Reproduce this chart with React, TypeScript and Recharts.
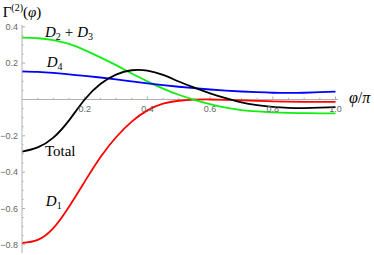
import { Line, LineChart, ReferenceDot, ReferenceLine, XAxis, YAxis } from "recharts";

// phi / pi sample points
const PHI = [0, 0.05, 0.1, 0.15, 0.2, 0.25, 0.3, 0.35, 0.4, 0.45, 0.5, 0.55, 0.6, 0.65, 0.7, 0.75, 0.8, 0.85, 0.9, 0.95, 1.0];

const D1 = [-0.79, -0.773, -0.708, -0.59, -0.452, -0.318, -0.208, -0.122, -0.06, -0.023, -0.007, -0.001, 0.0, -0.002, -0.005, -0.008, -0.01, -0.012, -0.013, -0.013, -0.013];
const D23 = [0.34, 0.337, 0.327, 0.306, 0.272, 0.232, 0.189, 0.143, 0.1, 0.06, 0.026, -0.002, -0.026, -0.045, -0.058, -0.066, -0.071, -0.074, -0.075, -0.076, -0.076];
const D4 = [0.155, 0.152, 0.146, 0.138, 0.13, 0.121, 0.111, 0.1, 0.089, 0.079, 0.07, 0.062, 0.055, 0.049, 0.044, 0.04, 0.037, 0.036, 0.037, 0.04, 0.043];
const TOTAL = [-0.287, -0.264, -0.21, -0.115, 0.0, 0.085, 0.137, 0.161, 0.159, 0.135, 0.099, 0.065, 0.034, 0.007, -0.016, -0.031, -0.041, -0.046, -0.047, -0.045, -0.042];

const X_MAJOR = [0.2, 0.4, 0.6, 0.8, 1.0];
const X_MINOR = [0.05, 0.1, 0.15, 0.25, 0.3, 0.35, 0.45, 0.5, 0.55, 0.65, 0.7, 0.75, 0.85, 0.9, 0.95];
const Y_MAJOR = [-0.8, -0.6, -0.4, -0.2, 0.2, 0.4];
const Y_MINOR = [-0.75, -0.7, -0.65, -0.55, -0.5, -0.45, -0.35, -0.3, -0.25, -0.15, -0.1, -0.05, 0.05, 0.1, 0.15, 0.25, 0.3, 0.35];

const rows = PHI.map((phi, i) => ({ phi, d1: D1[i], d23: D23[i], d4: D4[i], total: TOTAL[i] }));

const AXIS = "#b0b0b0";
const TICK_TEXT = "#666666";
const SANS = "'Liberation Sans', Arial, sans-serif";
const SERIF = "'Liberation Serif', 'Times New Roman', serif";

const fmtTick = (v: number) => (v < 0 ? "\u2212" + Math.abs(v).toFixed(1) : v.toFixed(1));

// math-ish annotation anchored at a data point (baseline-left)
const note = (body: React.ReactNode) => ({ viewBox }: any) => (
  <text x={viewBox.x} y={viewBox.y} fontFamily={SERIF} fontSize={15} fill="#000">
    {body}
  </text>
);

const D = (sub: string) => (
  <>
    <tspan fontStyle="italic">D</tspan>
    <tspan fontSize={10} dy={3}>{sub}</tspan>
  </>
);

export default function App() {
  return (
    <div style={{ position: "absolute", left: 0, top: 0, width: 374, height: 255, background: "#fff" }}>
      <LineChart width={374} height={255} data={rows} margin={{ top: 25, right: 36, bottom: 2, left: 0 }}>
        <XAxis type="number" dataKey="phi" domain={[0, 1.008]} allowDataOverflow hide height={0} />
        <YAxis
          type="number"
          domain={[-0.845, 0.41]}
          allowDataOverflow
          ticks={Y_MAJOR}
          width={22}
          stroke={AXIS}
          tickLine={false}
          tickSize={0}
          tickMargin={4}
          tickFormatter={fmtTick}
          tick={{ fill: TICK_TEXT, fontSize: 9, fontFamily: SANS }}
        />

        {/* x axis through zero, with phi/pi title */}
        <ReferenceLine
          y={0}
          stroke={AXIS}
          label={({ viewBox }: any) => (
            <text x={viewBox.x + viewBox.width + 11} y={viewBox.y + 4} fontFamily={SERIF} fontSize={16} fill="#000">
              <tspan fontStyle="italic">φ</tspan>/<tspan fontStyle="italic">π</tspan>
            </text>
          )}
        />
        {/* y title above the axis */}
        <ReferenceLine
          x={0}
          stroke="none"
          label={({ viewBox }: any) => (
            <text x={viewBox.x} y={viewBox.y - 8} textAnchor="middle" fontFamily={SERIF} fontSize={15} fill="#000">
              Γ<tspan fontSize={10} dy={-6}>(2)</tspan>
              <tspan dy={6}>(</tspan>
              <tspan fontStyle="italic">φ</tspan>)
            </text>
          )}
        />

        {/* inward tick marks */}
        {X_MAJOR.map((t) => (
          <ReferenceLine
            key={"xM" + t}
            segment={[{ x: t, y: 0 }, { x: t, y: 0.017 }]}
            stroke={AXIS}
            label={{ value: t.toFixed(1), position: "bottom", offset: 6, fill: TICK_TEXT, fontSize: 9, fontFamily: SANS }}
          />
        ))}
        {X_MINOR.map((t) => (
          <ReferenceLine key={"xm" + t} segment={[{ x: t, y: 0 }, { x: t, y: 0.009 }]} stroke={AXIS} />
        ))}
        {Y_MAJOR.map((t) => (
          <ReferenceLine key={"yM" + t} segment={[{ x: 0, y: t }, { x: 0.01, y: t }]} stroke={AXIS} />
        ))}
        {Y_MINOR.map((t) => (
          <ReferenceLine key={"ym" + t} segment={[{ x: 0, y: t }, { x: 0.005, y: t }]} stroke={AXIS} />
        ))}

        <Line type="natural" dataKey="d1" stroke="#ff0000" strokeWidth={1.8} dot={false} isAnimationActive={false} />
        <Line type="natural" dataKey="d23" stroke="#11ee11" strokeWidth={1.8} dot={false} isAnimationActive={false} />
        <Line type="natural" dataKey="d4" stroke="#0000ff" strokeWidth={1.8} dot={false} isAnimationActive={false} />
        <Line type="natural" dataKey="total" stroke="#000000" strokeWidth={1.8} dot={false} isAnimationActive={false} />

        <ReferenceDot x={0.073} y={0.345} r={0} stroke="none" label={note(<>{D("2")}<tspan dy={-3} dx={4}>+</tspan><tspan dx={4} fontStyle="italic">D</tspan><tspan fontSize={10} dy={3}>3</tspan></>)} />
        <ReferenceDot x={0.079} y={0.177} r={0} stroke="none" label={note(D("4"))} />
        <ReferenceDot x={0.073} y={-0.31} r={0} stroke="none" label={note("Total")} />
        <ReferenceDot x={0.076} y={-0.585} r={0} stroke="none" label={note(D("1"))} />
      </LineChart>
    </div>
  );
}
